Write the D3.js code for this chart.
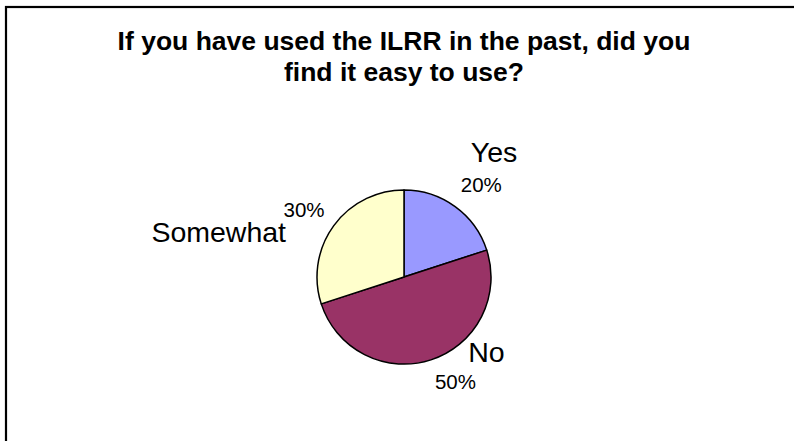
<!DOCTYPE html>
<html>
<head>
<meta charset="utf-8">
<script src="https://cdn.jsdelivr.net/npm/d3@7"></script>
<style>
  html, body { margin: 0; padding: 0; background: #fff; }
  svg { display: block; }
  text { font-family: "Liberation Sans", Arial, sans-serif; fill: #000; }
</style>
</head>
<body>
<svg id="chart" width="794" height="441"></svg>
<script>
// ---- data ----
const categories = ["Yes", "No", "Somewhat"];
const values = [20, 50, 30];
const percentLabels = ["20%", "50%", "30%"];
const colors = ["#9999FF", "#993366", "#FFFFCC"];
const titleLines = ["If you have used the ILRR in the past, did you", "find it easy to use?"];

// ---- layout ----
const W = 794, H = 441;
const cx = 404, cy = 277, R = 87;
const labelR = 120;
// offsets relative to label centroid: [pctDx, pctDy, catDx, catDy, catAnchor]
const labelLayout = {
  "Yes":      { pdx: 6.8,  pdy: 11.8, cdx: 19.5, cdy: -18,  anchor: "middle" },
  "No":       { pdx: 14.4, pdy: -2.1, cdx: 45.4, cdy: -29.4, anchor: "middle" },
  "Somewhat": { pdx: -2.9, pdy: 10.2, cdx: -20.9, cdy: 35.2, anchor: "end" }
};

const svg = d3.select("#chart");

// border (only top and left visible in frame)
svg.append("rect")
  .attr("x", 6).attr("y", 7)
  .attr("width", 820).attr("height", 460)
  .attr("fill", "none").attr("stroke", "#000").attr("stroke-width", 2.2);

// title
svg.append("g").selectAll("text").data(titleLines).join("text")
  .attr("x", cx).attr("y", (d, i) => 50 + i * 31)
  .attr("text-anchor", "middle")
  .attr("font-size", 26.5).attr("font-weight", "bold")
  .text(d => d);

const data = categories.map((c, i) => ({ cat: c, value: values[i], pct: percentLabels[i], color: colors[i] }));

const pie = d3.pie().value(d => d.value).sort(null);
const arcs = pie(data);
const arc = d3.arc().innerRadius(0).outerRadius(R);
const labelArc = d3.arc().innerRadius(labelR).outerRadius(labelR);

const g = svg.append("g").attr("transform", `translate(${cx},${cy})`);
g.selectAll("path").data(arcs).join("path")
  .attr("d", arc)
  .attr("fill", d => d.data.color)
  .attr("stroke", "#000").attr("stroke-width", 1.5)
  .attr("stroke-linejoin", "round");

const lg = g.append("g");
arcs.forEach(a => {
  const [x, y] = labelArc.centroid(a);
  const L = labelLayout[a.data.cat];
  lg.append("text")
    .attr("x", x + L.pdx).attr("y", y + L.pdy)
    .attr("text-anchor", "middle")
    .attr("font-size", 20.5)
    .text(a.data.pct);
  lg.append("text")
    .attr("x", x + L.cdx).attr("y", y + L.cdy)
    .attr("text-anchor", L.anchor)
    .attr("font-size", 28.5)
    .text(a.data.cat);
});
</script>
</body>
</html>
